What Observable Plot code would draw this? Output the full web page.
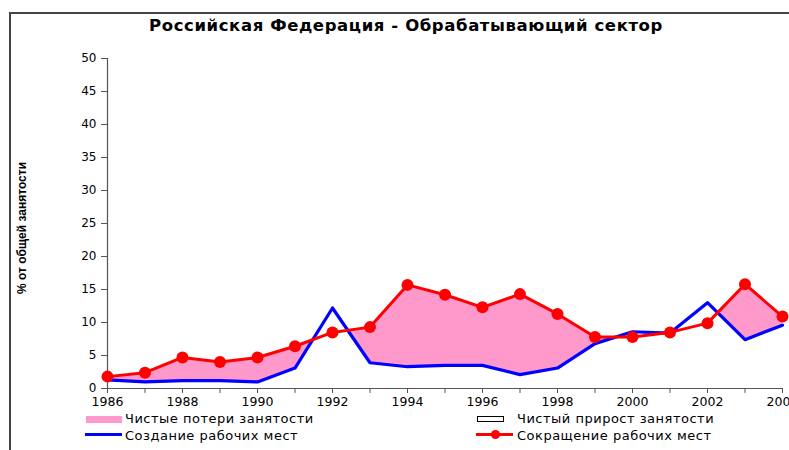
<!DOCTYPE html>
<html>
<head>
<meta charset="utf-8">
<script src="https://cdn.jsdelivr.net/npm/d3@7"></script>
<script src="https://cdn.jsdelivr.net/npm/@observablehq/plot@0.6"></script>
<style>
  html, body { margin: 0; padding: 0; background: #fff; overflow: hidden; }
  #wrap { position: relative; width: 789px; height: 450px; overflow: hidden; font-family: "DejaVu Sans", sans-serif; }
  #frame { position: absolute; left: 9px; top: 12px; width: 900px; height: 500px; border-left: 2px solid #444; border-top: 2px solid #444; }
  #title { position: absolute; left: 406px; top: 16px; transform: translateX(-50%); white-space: nowrap; font-weight: bold; font-size: 16.5px; letter-spacing: 0.6px; color: #000; }
  #ylabel { position: absolute; left: 22px; top: 228px; transform: translate(-50%, -50%) rotate(-90deg); white-space: nowrap; font-family: "Liberation Sans Narrow", "Liberation Sans", sans-serif; font-weight: bold; font-size: 12px; color: #000; }
  #chart { position: absolute; left: 0; top: 0; }
  #chart svg { max-width: none !important; }
  .leg { position: absolute; font-size: 13px; line-height: 13px; letter-spacing: 0.5px; color: #000; white-space: nowrap; }
  .sw { position: absolute; }
</style>
</head>
<body>
<div id="wrap">
  <div id="frame"></div>
  <div id="chart"></div>
  <div id="title">Российская Федерация - Обрабатывающий сектор</div>
  <div id="ylabel">% от общей занятости</div>
  <div id="legend"></div>
</div>
<script>
const years = [1986,1987,1988,1989,1990,1991,1992,1993,1994,1995,1996,1997,1998,1999,2000,2001,2002,2003,2004];
const jobDestruction = [1.8,2.4,4.7,4.0,4.7,6.4,8.5,9.3,15.7,14.2,12.3,14.3,11.3,7.8,7.8,8.5,9.9,15.8,10.9];
const jobCreation   = [1.3,1.0,1.2,1.2,1.0,3.1,12.2,3.9,3.3,3.5,3.5,2.1,3.1,6.8,8.6,8.4,13.0,7.4,9.6];
const yTicks = [0,5,10,15,20,25,30,35,40,45,50];
const legendLabels = ["Чистые потери занятости","Чистый прирост занятости","Создание рабочих мест","Сокращение рабочих мест"];

const data = years.map((y,i) => ({year: y, red: jobDestruction[i], blue: jobCreation[i]}));

const axisColor = "#555";
const chart = Plot.plot({
  width: 830,
  height: 450,
  marginLeft: 107,
  marginRight: 48,
  marginTop: 58,
  marginBottom: 62,
  style: {fontFamily: "'DejaVu Sans', sans-serif", fontSize: "12.5px", background: "transparent", overflow: "visible"},
  x: {domain: [1986, 2004], label: null},
  y: {domain: [0, 50], label: null},
  marks: [
    Plot.areaY(data, {x: "year", y: "red", fill: "#FF99CC"}),
    Plot.areaY(data, {x: "year", y: "blue", fill: "#ffffff"}),
    Plot.ruleX([1986], {y1: 0, y2: 50, stroke: axisColor, strokeWidth: 1.2}),
    Plot.ruleY([0], {stroke: axisColor, strokeWidth: 1.2}),
    Plot.axisY({ticks: yTicks, tickSize: 6, tickPadding: 5, stroke: axisColor, fill: "#000", fontSize: 12, tickFormat: d => String(d)}),
    Plot.axisX({ticks: years, tickSize: 5, tickPadding: 4, stroke: axisColor, fill: "#000", fontSize: 12.5, tickFormat: d => d % 2 === 0 ? String(d) : ""}),
    Plot.line(data, {x: "year", y: "blue", stroke: "#0000FF", strokeWidth: 3.2}),
    Plot.line(data, {x: "year", y: "red", stroke: "#FF0000", strokeWidth: 3}),
    Plot.dot(data, {x: "year", y: "red", r: 6, fill: "#FF0000", stroke: "none"})
  ]
});
document.getElementById("chart").appendChild(chart);

const leg = document.getElementById("legend");
const items = [
  {x: 86, y: 412, type: "fill", color: "#FF99CC", label: legendLabels[0]},
  {x: 477, y: 412, type: "box", color: "#fff", label: legendLabels[1]},
  {x: 86, y: 429, type: "line", color: "#0000FF", label: legendLabels[2]},
  {x: 477, y: 429, type: "linedot", color: "#FF0000", label: legendLabels[3]}
];
items.forEach(it => {
  const sw = document.createElement("div");
  sw.className = "sw";
  let tx = it.x + 39;
  if (it.type === "fill") {
    Object.assign(sw.style, {left: it.x+"px", top: (it.y+4)+"px", width: "36px", height: "7px", background: it.color});
  } else if (it.type === "box") {
    Object.assign(sw.style, {left: it.x+"px", top: (it.y+4)+"px", width: "25px", height: "4px", background: "#fff", border: "1px solid #000"});
    tx = 517;
  } else {
    Object.assign(sw.style, {left: (it.x - 1)+"px", top: (it.y+4)+"px", width: "37px", height: "3px", background: it.color});
    if (it.type === "linedot") tx = 517;
  }
  leg.appendChild(sw);
  if (it.type === "linedot") {
    const d = document.createElement("div");
    d.className = "sw";
    Object.assign(d.style, {left: (it.x+14)+"px", top: (it.y+1)+"px", width: "9px", height: "9px", borderRadius: "50%", background: it.color});
    leg.appendChild(d);
  }
  const t = document.createElement("div");
  t.className = "leg";
  t.textContent = it.label;
  Object.assign(t.style, {left: tx + "px", top: (it.y - 0.5) + "px"});
  leg.appendChild(t);
});
</script>
</body>
</html>
